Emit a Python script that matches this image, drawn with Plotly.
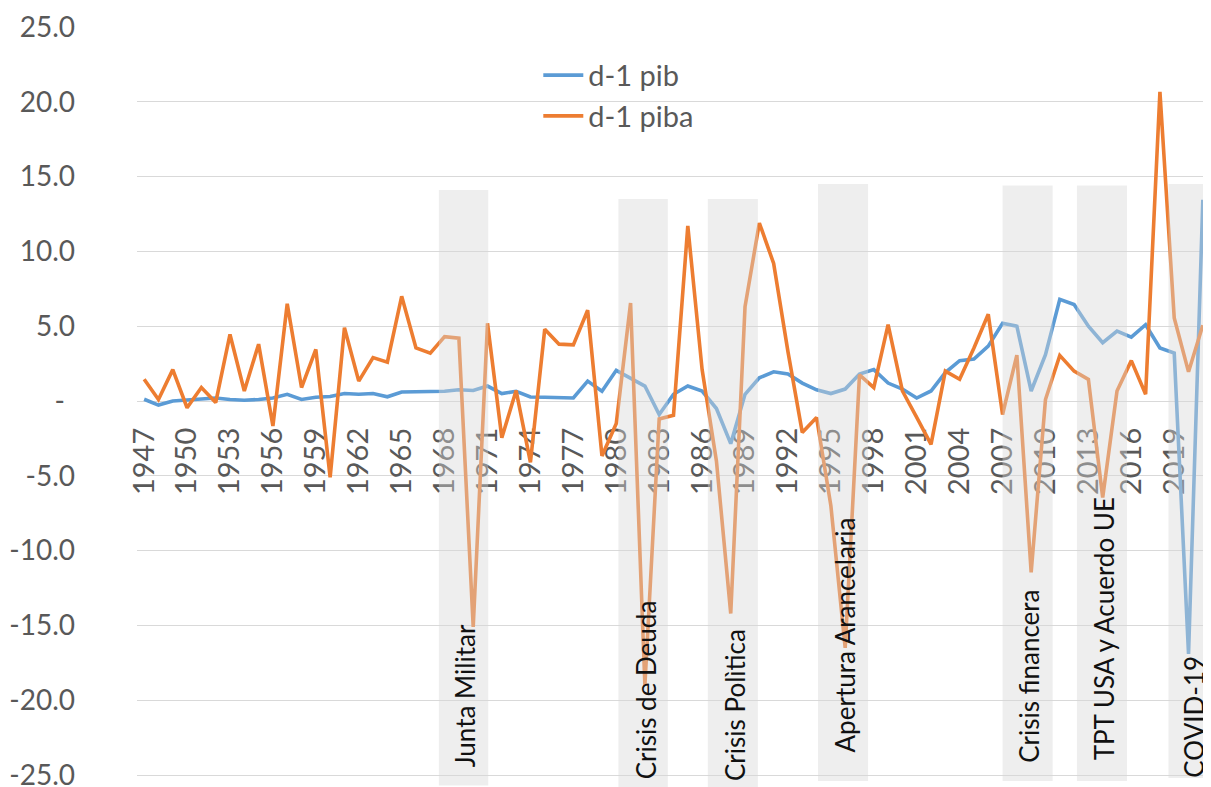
import plotly.graph_objects as go

# ---- data ----
years = list(range(1947, 2022))

pib = [0.12, -0.27, 0.0, 0.05, 0.1, 0.2, 0.1, 0.05, 0.1, 0.2,
       0.45, 0.1, 0.25, 0.3, 0.5, 0.45, 0.5, 0.28, 0.6, 0.62,
       0.65, 0.65, 0.75, 0.7, 1.0, 0.5, 0.65, 0.27, 0.25, 0.25,
       0.2, 1.33, 0.65, 2.05, 1.55, 1.0, -0.9, 0.45, 1.0, 0.67,
       -0.5, -2.85, 0.45, 1.55, 1.95, 1.8, 1.2, 0.75, 0.5, 0.8,
       1.8, 2.1, 1.2, 0.8, 0.2, 0.67, 1.9, 2.7, 2.8, 3.67,
       5.2, 5.0, 0.67, 3.1, 6.8, 6.45, 5.0, 3.9, 4.67, 4.27,
       5.1, 3.55, 3.2, -16.9, 13.45]

piba = [1.45, 0.1, 2.1, -0.45, 0.9, -0.1, 4.45, 0.67, 3.8, -1.67,
        6.5, 0.9, 3.45, -5.1, 4.9, 1.33, 2.9, 2.6, 7.0, 3.55,
        3.2, 4.3, 4.2, -15.1, 5.2, -2.45, 0.7, -4.1, 4.8, 3.8,
        3.75, 6.07, -3.67, -1.5, 6.55, -19.0, -1.2, -0.95, 11.7, 2.1,
        -4.0, -14.2, 6.3, 11.9, 9.2, 3.3, -2.1, -1.1, -7.0, -16.5,
        1.75, 0.9, 5.1, 0.67, -1.1, -2.9, 2.0, 1.45, 3.55, 5.8,
        -0.9, 3.07, -11.45, 0.1, 3.05, 2.0, 1.45, -6.45, 0.67, 2.7,
        0.45, 20.67, 5.55, 1.95, 5.07]

y_ticks = [25, 20, 15, 10, 5, 0, -5, -10, -15, -20, -25]
y_ticktext = ["25.0", "20.0", "15.0", "10.0", "5.0",
              "-<span style='color:rgba(0,0,0,0)'>t</span>", "-5.0",
              "-10.0", "-15.0", "-20.0", "-25.0"]
x_ticks = years[::3]

# shaded episodes
band_labels = ["Junta Militar", "Crisis de Deuda", "Crisis Polìtica",
               "Apertura Arancelaria", "Crisis financera",
               "TPT USA y Acuerdo UE", "COVID-19"]
band_start = [1967.6, 1980.15, 1986.4, 1994.1, 2007.0, 2012.2, 2018.6]
band_end = [1971.05, 1983.6, 1989.9, 1997.6, 2010.5, 2015.7, 2022.0]
band_top = [14.1, 13.5, 13.5, 14.5, 14.4, 14.4, 14.5]
band_bottom = [-25.7, -25.8, -25.8, -25.4, -25.4, -25.4, -25.2]
label_x = [1969.45, 1982.1, 1988.3, 1996.0, 2008.8, 2014.1, 2020.4]
label_top = [-14.8, -13.2, -15.1, -7.67, -12.5, -6.33, -16.87]

Y_MIN, Y_MAX = -25.8, 25.0
FONT = "Lato"
GRAY = "#595959"

fig = go.Figure()
fig.add_trace(go.Scatter(x=years, y=pib, mode="lines", name="d-1 pib",
                         line=dict(color="#5B9BD5", width=3.6)))
fig.add_trace(go.Scatter(x=years, y=piba, mode="lines", name="d-1 piba",
                         line=dict(color="#ED7D31", width=3.6)))

for s, e, t, b in zip(band_start, band_end, band_top, band_bottom):
    fig.add_shape(type="rect", xref="x", yref="y", x0=s, x1=e, y0=b, y1=t,
                  fillcolor="rgba(215,215,215,0.42)", line=dict(width=0),
                  layer="above")

for txt, lx, lt in zip(band_labels, label_x, label_top):
    fig.add_annotation(text=txt, x=lx, y=lt, xref="x", yref="y",
                       textangle=-90, xanchor="center", yanchor="top",
                       showarrow=False,
                       font=dict(family=FONT, size=26, color="#111111"))

# the page body has an 8px default margin: size the figure to compensate
fig.update_layout(
    width=1203, height=787,
    margin=dict(l=129, r=1, t=19, b=8, autoexpand=False),
    paper_bgcolor="white", plot_bgcolor="white",
    font=dict(family=FONT, color=GRAY),
    showlegend=True,
    legend=dict(x=0.374, y=0.97, xanchor="left", yanchor="top",
                bgcolor="rgba(0,0,0,0)", font=dict(family=FONT, size=29, color=GRAY),
                itemwidth=40, tracegroupgap=0),
    xaxis=dict(type="linear", range=[1946.5, 2021.5], tickvals=x_ticks,
               ticktext=[str(v) for v in x_ticks], tickangle=-90,
               anchor="free", position=(0 - Y_MIN) / (Y_MAX - Y_MIN),
               showgrid=False, zeroline=False, showline=False, ticks="",
               ticklabelstandoff=20, layer="below traces", automargin=False,
               ticklabeloverflow="allow",
               tickfont=dict(family=FONT, size=29, color=GRAY)),
    yaxis=dict(range=[Y_MIN, Y_MAX], tickvals=y_ticks, ticktext=y_ticktext,
               showgrid=True, gridcolor="#D9D9D9", gridwidth=1.2,
               zeroline=False, showline=False, ticks="", automargin=False,
               ticklabelstandoff=61, ticklabeloverflow="allow",
               tickfont=dict(family=FONT, size=28, color=GRAY)),
)

fig.write_html("out.html")
